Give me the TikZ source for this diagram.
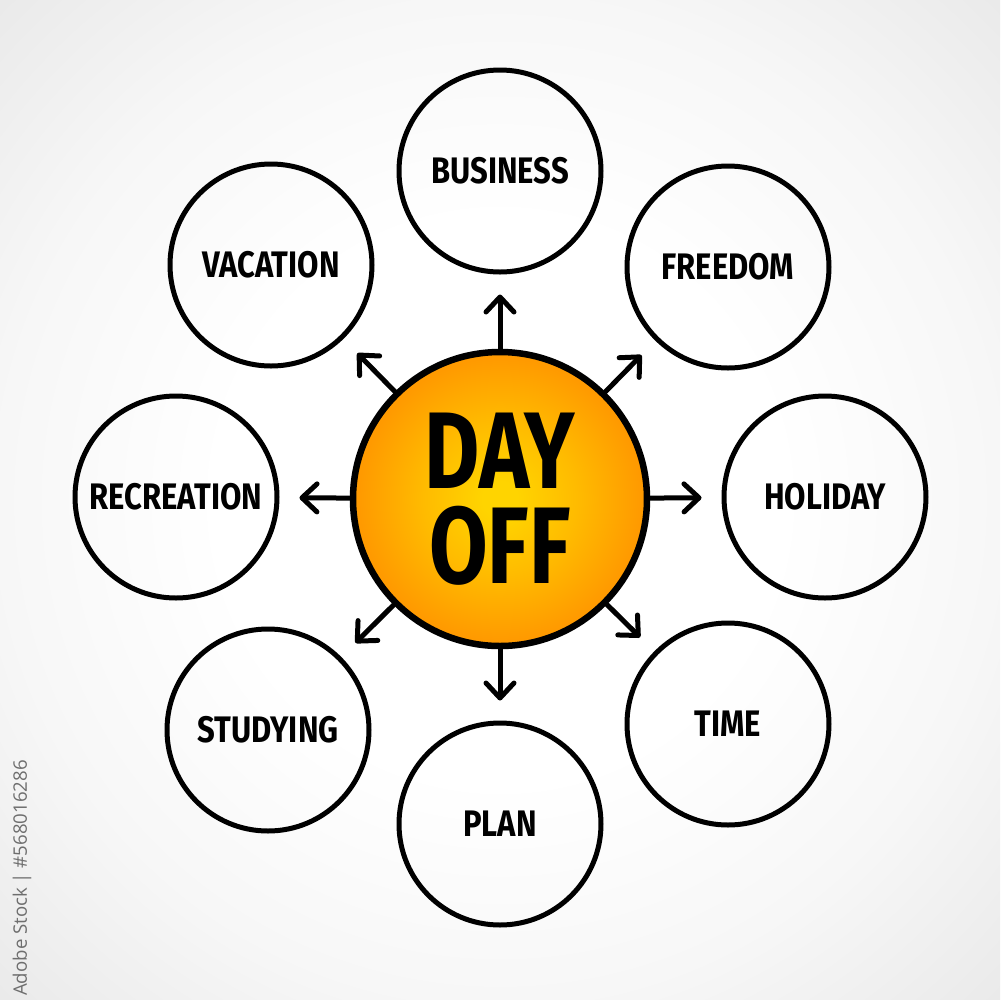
\documentclass[tikz,border=0pt]{standalone}
\usepackage{fontspec}
\usetikzlibrary{arrows.meta}
\newfontfamily\lblfont[FakeStretch=0.84]{Fira Sans}
\newfontfamily\hubfont[FakeStretch=0.78]{Fira Sans}
\newfontfamily\wmfont{Open Sans}
\definecolor{sunin}{HTML}{FFD400}
\definecolor{sunmid}{HTML}{FFBB00}
\definecolor{sunout}{HTML}{FF9A00}
\definecolor{bgmid}{HTML}{F7F7F7}
\definecolor{bgedge}{HTML}{E9E9E9}
\definecolor{wmgray}{HTML}{6E6E6E}
\pgfdeclareradialshading{sunshade}{\pgfpoint{0bp}{0bp}}{color(0bp)=(sunin); color(3bp)=(sunin); color(13bp)=(sunmid); color(24bp)=(sunout); color(50bp)=(sunout)}
\pgfdeclareradialshading{bgshade}{\pgfpoint{0bp}{0bp}}{color(0bp)=(white); color(14bp)=(white); color(25bp)=(bgmid); color(36bp)=(bgedge); color(50bp)=(bgedge)}
\begin{document}
\begin{tikzpicture}[x=0.1mm,y=-0.1mm,
  leaf/.style={circle, draw=black, line width=0.5mm, minimum size=20.2mm, inner sep=0pt,
    font=\lblfont\bfseries\fontsize{10.5}{12}\selectfont},
  hub/.style={circle, draw=black, line width=0.65mm, shade, shading=sunshade, minimum size=29.4mm,
    inner sep=0pt, align=center, font=\hubfont\bfseries\fontsize{31}{27}\selectfont},
  arr/.style={-{Straight Barb[length=1.5mm,width=2.8mm,line cap=round,line join=round]},
    line width=0.5mm, line cap=round, shorten >=2mm}]
\useasboundingbox (0,0) rectangle (1000,1000);
\shade[shading=bgshade] (0,0) rectangle (1000,1000);

\node[hub] (hub) at (500,499) {DAY\\OFF};

\node[leaf] (business) at (500,171) {BUSINESS};
\node[leaf] (freedom) at (728,267) {FREEDOM};
\node[leaf] (holiday) at (825,497) {HOLIDAY};
\node[leaf] (time) at (728,724) {TIME};
\node[leaf] (plan) at (500,824) {PLAN};
\node[leaf] (studying) at (268,730) {STUDYING};
\node[leaf] (recreation) at (176,497) {RECREATION};
\node[leaf] (vacation) at (271,265) {VACATION};

\foreach \t in {business,freedom,holiday,time,plan,studying,recreation,vacation}
  \draw[arr] (hub) -- (\t);

\node[rotate=90, font=\wmfont\fontsize{5.3}{6}\selectfont, text=wmgray, inner sep=0pt] (wm) at (22,878) {Adobe Stock | \#568016286};
\end{tikzpicture}
\end{document}
